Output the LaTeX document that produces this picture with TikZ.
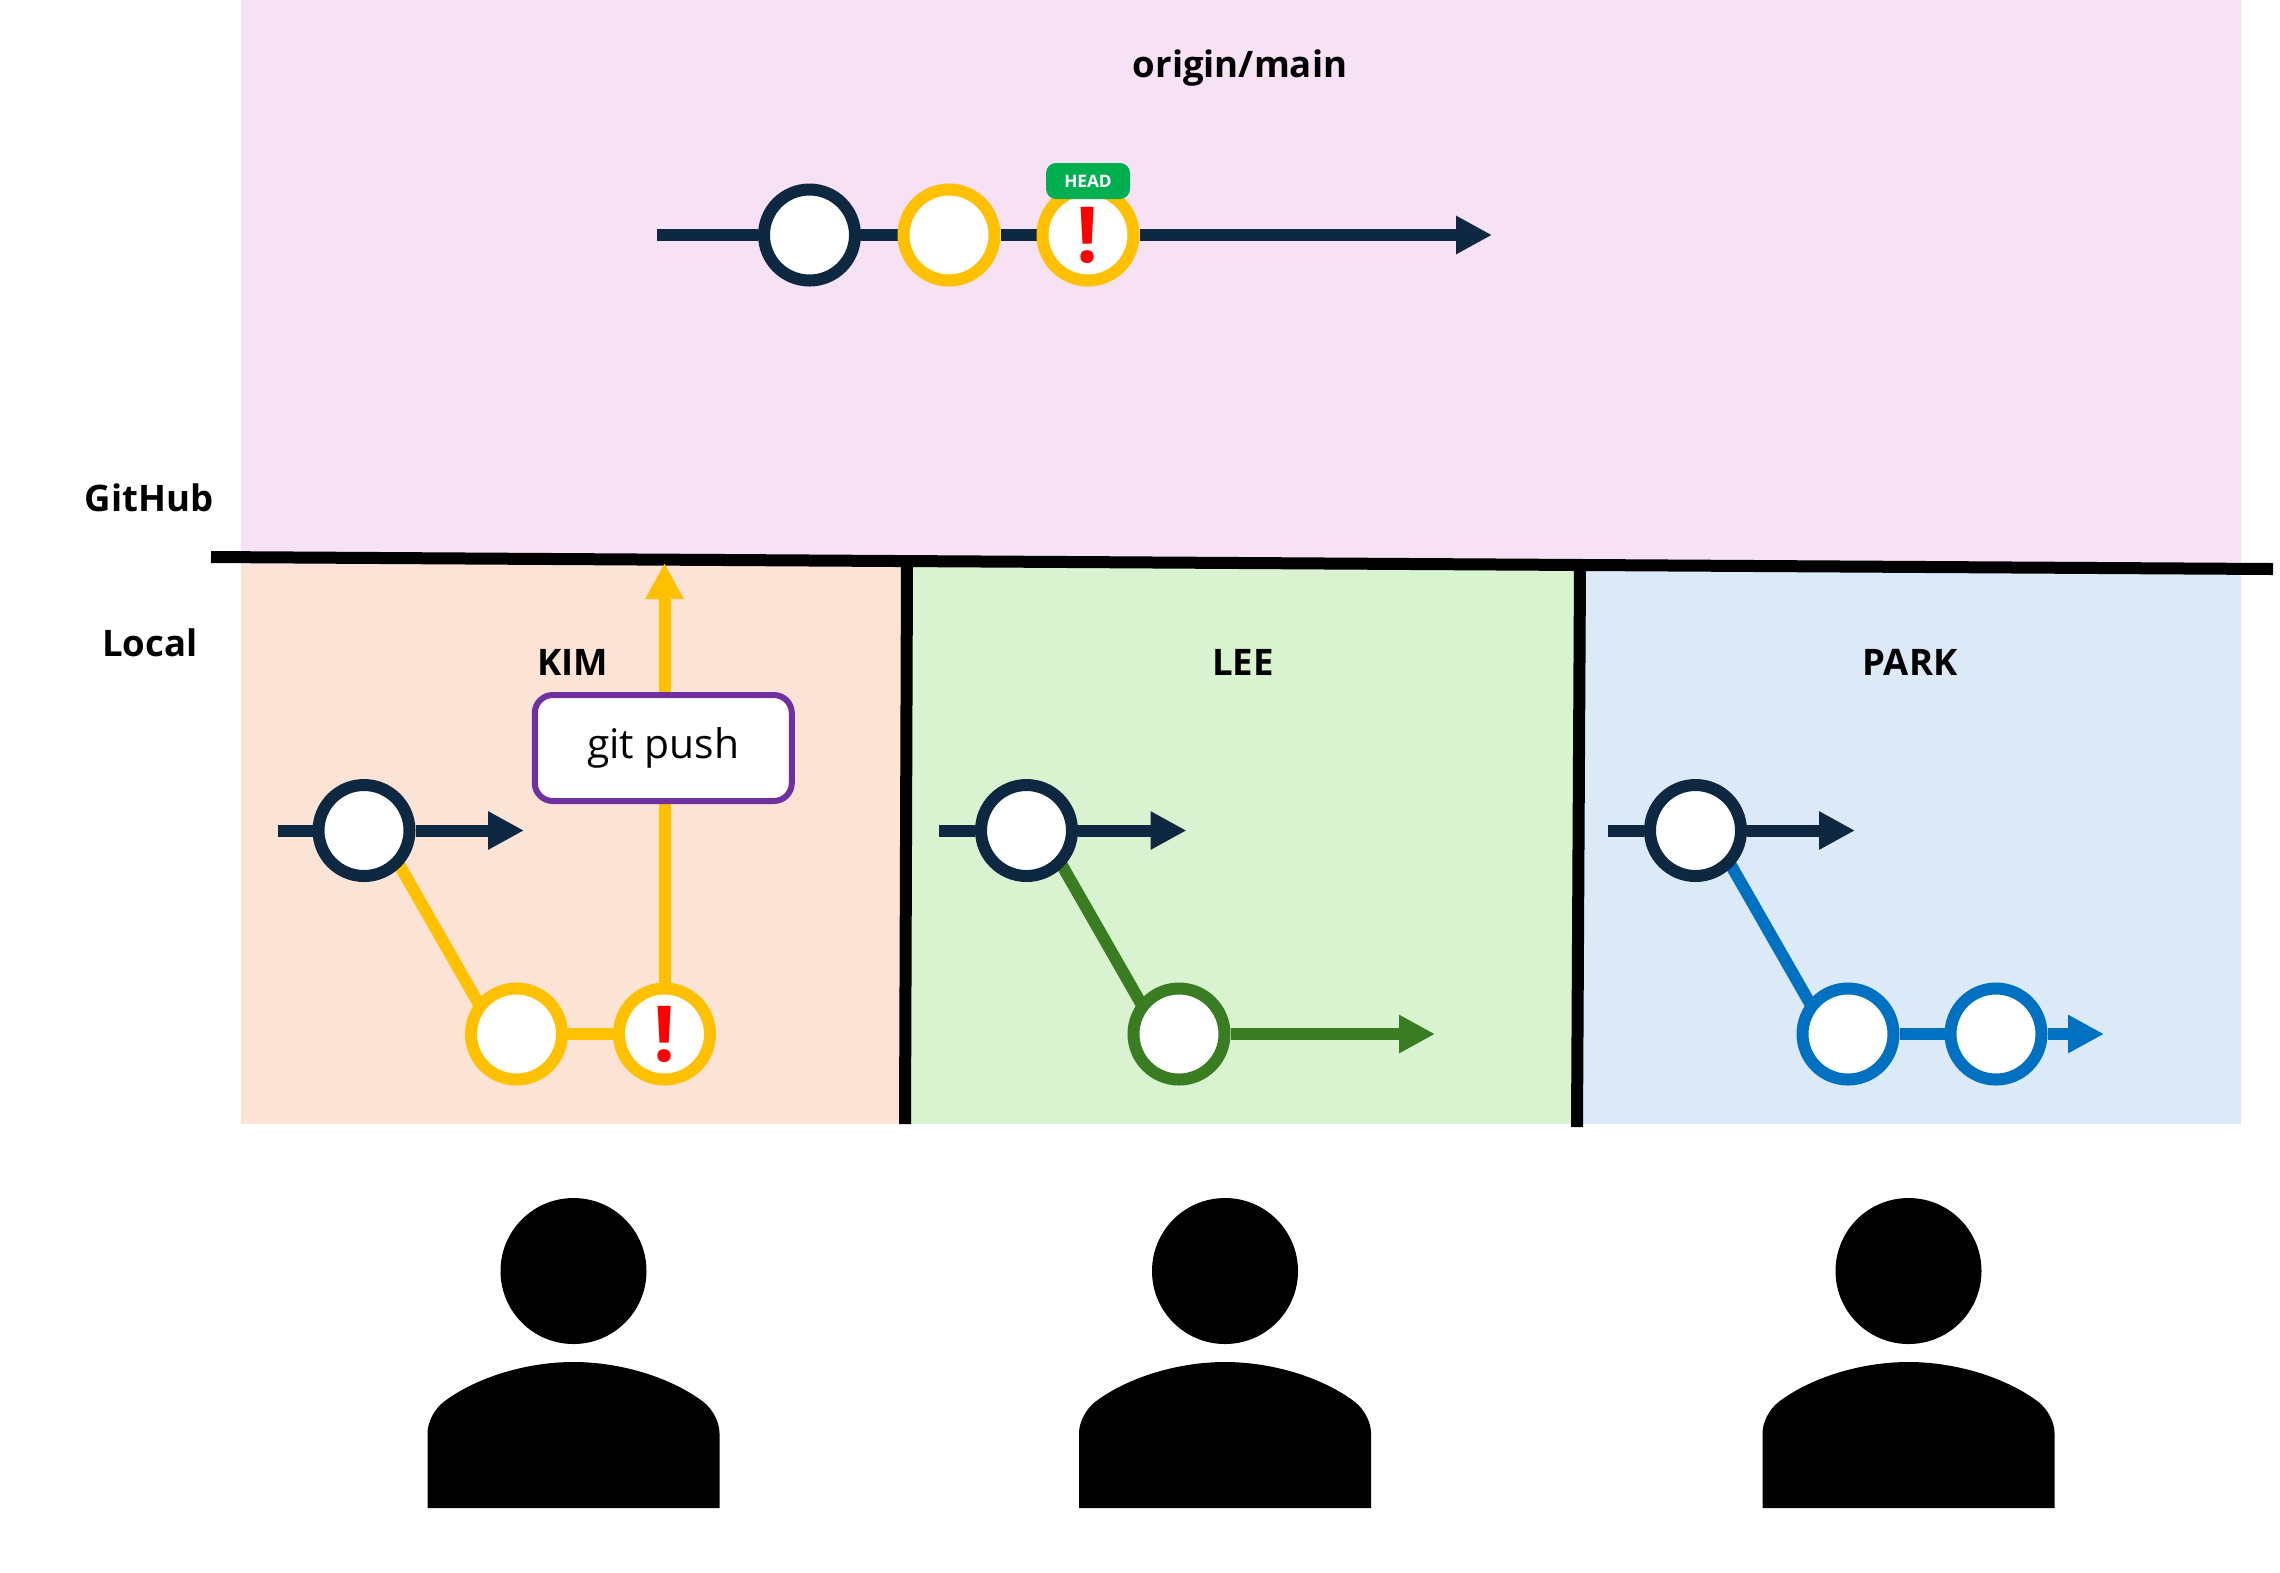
\documentclass[tikz,border=0pt]{standalone}
\usepackage{fontspec}
\setmainfont{Open Sans}
\usetikzlibrary{arrows.meta,backgrounds}
\definecolor{navyline}{HTML}{0E2841}
\definecolor{kimline}{HTML}{FFC000}
\definecolor{leeline}{HTML}{3A7C22}
\definecolor{parkline}{HTML}{0070C0}
\definecolor{pushline}{HTML}{7030A0}
\definecolor{headfill}{HTML}{00B050}
\definecolor{githubbg}{HTML}{F6E1F5}
\definecolor{kimbg}{HTML}{FBE3D6}
\definecolor{leebg}{HTML}{D9F2D0}
\definecolor{parkbg}{HTML}{DCEAF7}
\tikzset{
  commit/.style={circle,draw=#1,fill=white,line width=0.12cm,minimum size=0.91cm,inner sep=0pt,
    text=red,font=\fontsize{22}{22}\selectfont\bfseries},
  branch/.style={draw=#1,line width=0.12cm},
  branchtip/.style={draw=#1,fill=#1,line width=0.12cm,-{Triangle[length=0.36cm,width=0.36cm]}},
  divider/.style={line width=0.12cm},
  lbl/.style={font=\fontsize{10.4}{12}\selectfont\bfseries}
}
\begin{document}
\begin{tikzpicture}
\useasboundingbox (0,0) rectangle (22.8,-15.72);
% areas
\begin{scope}[on background layer]
\fill[githubbg] (2.41,0) rectangle (22.41,-5.65);
\fill[kimbg] (2.41,-5.65) rectangle (9.07,-11.24);
\fill[leebg] (9.07,-5.65) rectangle (15.8,-11.24);
\fill[parkbg] (15.8,-5.65) rectangle (22.41,-11.24);
\end{scope}
% labels
\node[lbl] (originlbl) at (12.4,-0.68) {origin/main};
\node[lbl] (githublbl) at (1.49,-4.98) {GitHub};
\node[lbl] (locallbl) at (1.5,-6.43) {Local};
\node[lbl] (kimlbl) at (5.73,-6.62) {KIM};
\node[lbl] (leelbl) at (12.43,-6.62) {LEE};
\node[lbl] (parklbl) at (19.1,-6.62) {PARK};
% origin/main
\node[commit=navyline] (top0) at (8.095,-2.35) {};
\node[commit=kimline] (top1) at (9.49,-2.35) {};
\node[commit=kimline] (top2) at (10.88,-2.35) {!};
\coordinate (topstart) at (6.57,-2.35);
\coordinate (toptip) at (14.92,-2.35);
\node[fill=headfill,rounded corners=0.1cm,minimum width=0.84cm,minimum height=0.36cm,inner sep=0pt,
  text=white,font=\fontsize{4.9}{5}\selectfont\bfseries] (headtag) at (10.88,-1.81) {HEAD};
% KIM
\node[commit=navyline] (kim0) at (3.64,-8.305) {};
\node[commit=kimline] (kim1) at (5.165,-10.34) {};
\node[commit=kimline] (kim2) at (6.645,-10.34) {!};
\coordinate (kimstart) at (2.775,-8.305);
\coordinate (kimtip) at (5.24,-8.305);
\coordinate (kimup) at (6.645,-5.63);
\node[draw=pushline,fill=white,line width=0.06cm,rounded corners=0.18cm,minimum width=2.57cm,minimum height=1.06cm,
  font=\fontsize{11.6}{14}\selectfont] (gitpush) at (6.633,-7.48) {git push};
% LEE
\node[commit=navyline] (lee0) at (10.265,-8.305) {};
\node[commit=leeline] (lee1) at (11.79,-10.34) {};
\coordinate (leestart) at (9.39,-8.305);
\coordinate (leetip) at (11.865,-8.305);
\coordinate (leeend) at (14.35,-10.34);
% PARK
\node[commit=navyline] (park0) at (16.955,-8.305) {};
\node[commit=parkline] (park1) at (18.48,-10.34) {};
\node[commit=parkline] (park2) at (19.96,-10.34) {};
\coordinate (parkstart) at (16.08,-8.305);
\coordinate (parktip) at (18.55,-8.305);
\coordinate (parkend) at (21.04,-10.34);
% dividers
\coordinate (lineleft) at (2.11,-5.57);
\coordinate (lineright) at (22.73,-5.69);
\coordinate (div1top) at (9.07,-5.62);
\coordinate (div1bot) at (9.05,-11.24);
\coordinate (div2top) at (15.8,-5.66);
\coordinate (div2bot) at (15.77,-11.27);
\begin{scope}[on background layer]
\draw[divider] (lineleft) -- (lineright);
\draw[divider] (div1top) -- (div1bot);
\draw[divider] (div2top) -- (div2bot);
% connectors
\draw[branch=navyline] (topstart) -- (top0);
\draw[branch=navyline] (top0) -- (top1);
\draw[branch=navyline] (top1) -- (top2);
\draw[branchtip=navyline] (top2) -- (toptip);
\draw[branch=navyline] (kimstart) -- (kim0);
\draw[branchtip=navyline] (kim0) -- (kimtip);
\draw[branch=kimline,shorten <=-1pt,shorten >=-1pt] (kim0.-45) -- (kim1.140);
\draw[branch=kimline] (kim1) -- (kim2);
\draw[branchtip=kimline] (kim2.north) -- (kimup);
\draw[branch=navyline] (leestart) -- (lee0);
\draw[branchtip=navyline] (lee0) -- (leetip);
\draw[branch=leeline,shorten <=-1pt,shorten >=-1pt] (lee0.-45) -- (lee1.140);
\draw[branchtip=leeline] (lee1) -- (leeend);
\draw[branch=navyline] (parkstart) -- (park0);
\draw[branchtip=navyline] (park0) -- (parktip);
\draw[branch=parkline,shorten <=-1pt,shorten >=-1pt] (park0.-45) -- (park1.140);
\draw[branch=parkline] (park1) -- (park2);
\draw[branchtip=parkline] (park2) -- (parkend);
\end{scope}
% people
\fill[shift={(5.735,-12.71)}] (0,0) circle[radius=0.73];
\fill[shift={(5.735,-13.62)}] (0,0) .. controls (0.5,0) and (1.0,-0.17) .. (1.3,-0.40) .. controls (1.39,-0.47) and (1.46,-0.6) .. (1.46,-0.71) -- (1.46,-1.46) -- (-1.46,-1.46) -- (-1.46,-0.71) .. controls (-1.46,-0.6) and (-1.39,-0.47) .. (-1.3,-0.40) .. controls (-1.0,-0.17) and (-0.5,0) .. (0,0);
\fill[shift={(12.25,-12.71)}] (0,0) circle[radius=0.73];
\fill[shift={(12.25,-13.62)}] (0,0) .. controls (0.5,0) and (1.0,-0.17) .. (1.3,-0.40) .. controls (1.39,-0.47) and (1.46,-0.6) .. (1.46,-0.71) -- (1.46,-1.46) -- (-1.46,-1.46) -- (-1.46,-0.71) .. controls (-1.46,-0.6) and (-1.39,-0.47) .. (-1.3,-0.40) .. controls (-1.0,-0.17) and (-0.5,0) .. (0,0);
\fill[shift={(19.085,-12.71)}] (0,0) circle[radius=0.73];
\fill[shift={(19.085,-13.62)}] (0,0) .. controls (0.5,0) and (1.0,-0.17) .. (1.3,-0.40) .. controls (1.39,-0.47) and (1.46,-0.6) .. (1.46,-0.71) -- (1.46,-1.46) -- (-1.46,-1.46) -- (-1.46,-0.71) .. controls (-1.46,-0.6) and (-1.39,-0.47) .. (-1.3,-0.40) .. controls (-1.0,-0.17) and (-0.5,0) .. (0,0);
\end{tikzpicture}
\end{document}
